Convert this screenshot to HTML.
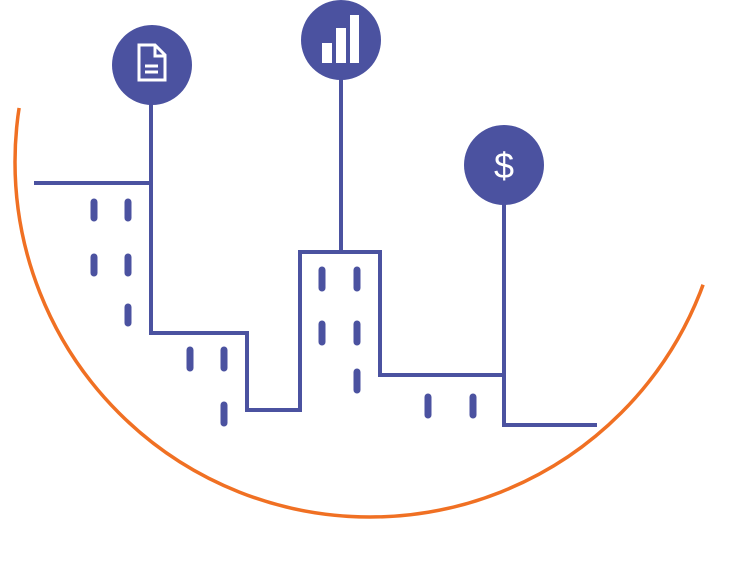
<!DOCTYPE html><html><head><style>body{margin:0;background:#fff}</style></head><body>
<svg width="731" height="567" viewBox="0 0 731 567" xmlns="http://www.w3.org/2000/svg">
<defs><clipPath id="c"><polygon points="0,105 370,162 731,295 731,567 0,567"/></clipPath></defs>
<circle cx="370" cy="162" r="355" fill="none" stroke="#f07023" stroke-width="3.5" clip-path="url(#c)"/>
<g stroke="#4b52a0" stroke-width="4" fill="none" stroke-linejoin="miter">
<path d="M34 183 H151 V333 H247 V410 H300 V252 H380 V375 H504 V425 H597"/>
<path d="M151 100 V183 M341 75 V252 M504 200 V375"/>
</g>
<g stroke="#4b52a0" stroke-width="7" stroke-linecap="round">
<path d="M94 202V218M94 257V273M128 202V218M128 257V273M128 307V323M190 350V368M224 350V368M224 405V423M322 270V288M322 324V342M357 270V288M357 324V342M357 372V390M428 397V415M473 397V415"/>
</g>
<g fill="#4b52a0"><circle cx="152" cy="65" r="40"/><circle cx="341" cy="40" r="40"/><circle cx="504" cy="165" r="40"/></g>
<g stroke="#fff" stroke-width="3" fill="none">
<path d="M139 45 H155 L165 55 V80 H139 Z"/><path d="M155 45 V56 H165"/><path d="M145 66H158M145 72H158"/>
</g>
<g fill="#fff"><rect x="322" y="43" width="10" height="20"/><rect x="336" y="28" width="10" height="35"/><rect x="350" y="15" width="9" height="48"/></g>
<text x="504" y="178" font-family="Liberation Sans, sans-serif" font-size="36" fill="#fff" text-anchor="middle">$</text>
</svg>
</body></html>
